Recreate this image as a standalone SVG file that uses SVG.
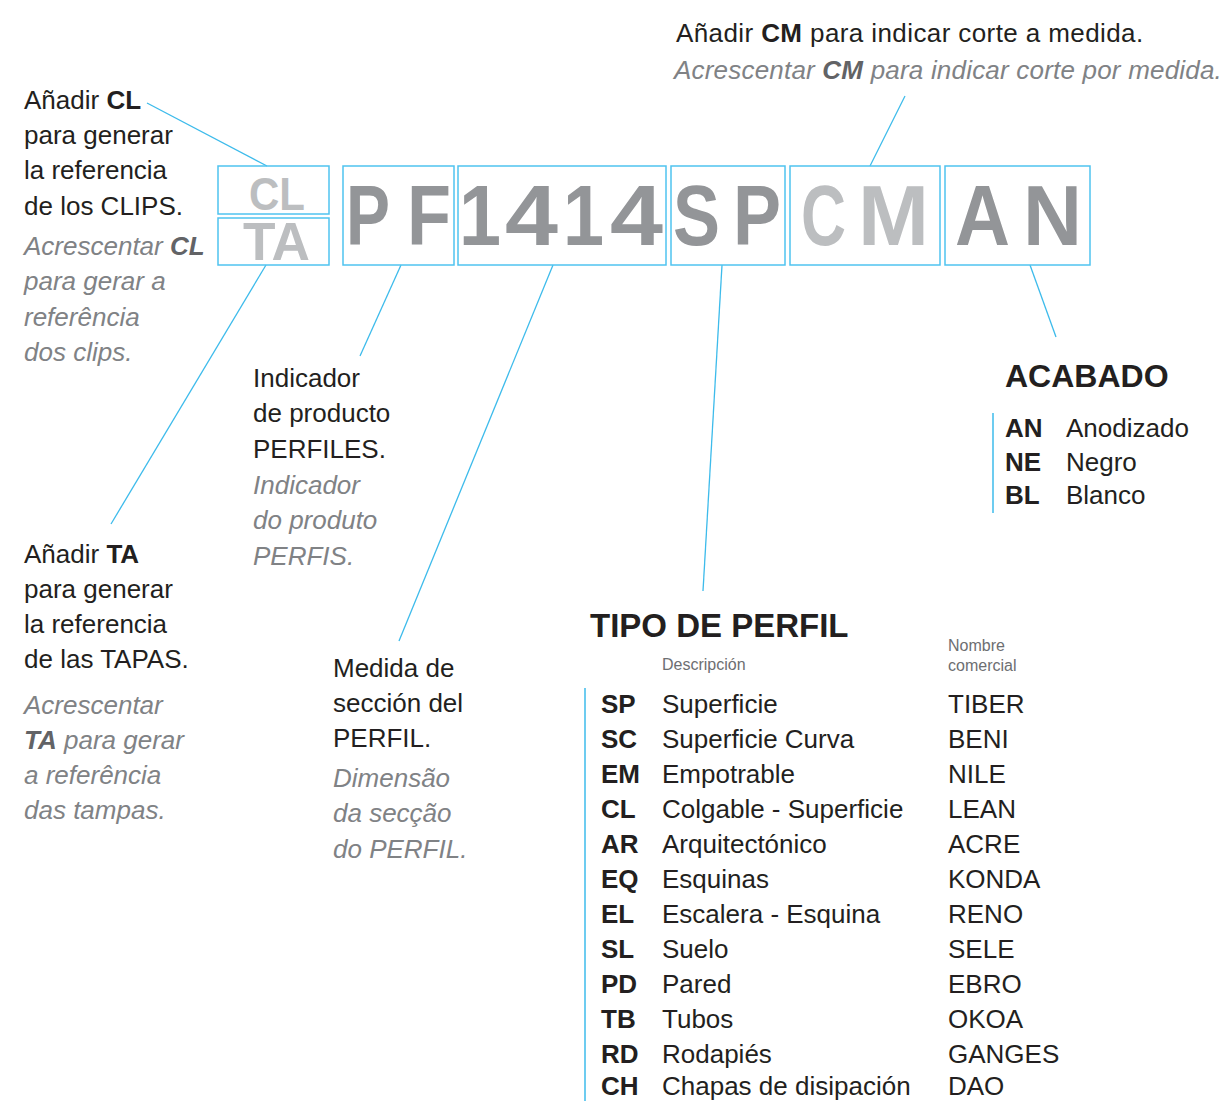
<svg xmlns="http://www.w3.org/2000/svg" width="1226" height="1101" viewBox="0 0 1226 1101">
<style>
text{font-family:"Liberation Sans",Arial,sans-serif;}
.t{font-size:26px;fill:#231f20;}
.i{font-size:26px;fill:#808285;font-style:italic;}
.b{font-weight:bold;}
.ib{font-weight:bold;fill:#626366;}
.big{font-size:86px;font-weight:bold;fill:#939598;}
.lt{fill:#bcbec0;}
.box{fill:none;stroke:#4fc3f0;stroke-width:1.5;}
.con line{stroke:#3dbbeb;stroke-width:1.3;}
.vbar{stroke:#3dbbeb;stroke-width:1.5;}
.h{font-size:33px;font-weight:bold;fill:#231f20;}
.s{font-size:16px;fill:#6d6e71;}
</style>
<rect width="1226" height="1101" fill="#ffffff"/>

<g id="connectors" class="con">
<line x1="147" y1="103" x2="267" y2="166"/>
<line x1="266" y1="265" x2="111" y2="524"/>
<line x1="401" y1="265" x2="360" y2="356"/>
<line x1="553" y1="265" x2="399" y2="641"/>
<line x1="722" y1="265" x2="703" y2="591"/>
<line x1="870" y1="166" x2="905" y2="96"/>
<line x1="1030" y1="265" x2="1056" y2="337"/>
</g>

<g id="box-CL">
<rect class="box" x="218" y="166" width="111" height="48"/>
<text x="249" y="210" font-size="47" class="b lt" textLength="56" lengthAdjust="spacingAndGlyphs">CL</text>
</g>
<g id="box-TA">
<rect class="box" x="218" y="218" width="111" height="47"/>
<text x="243" y="260" font-size="53" class="b lt" textLength="67" lengthAdjust="spacingAndGlyphs">TA</text>
</g>
<g id="box-PF">
<rect class="box" x="343" y="166" width="111" height="99"/>
<text class="big" x="346" y="245" textLength="44" lengthAdjust="spacingAndGlyphs">P</text>
<text class="big" x="407" y="245" textLength="44" lengthAdjust="spacingAndGlyphs">F</text>
</g>
<g id="box-1414">
<rect class="box" x="458" y="166" width="208" height="99"/>
<text class="big" x="459" y="245" textLength="42" lengthAdjust="spacingAndGlyphs">1</text>
<text class="big" x="505" y="245" textLength="53" lengthAdjust="spacingAndGlyphs">4</text>
<text class="big" x="563" y="245" textLength="41" lengthAdjust="spacingAndGlyphs">1</text>
<text class="big" x="610" y="245" textLength="53" lengthAdjust="spacingAndGlyphs">4</text>
</g>
<g id="box-SP">
<rect class="box" x="671" y="166" width="114" height="99"/>
<text class="big" x="673" y="245" textLength="47" lengthAdjust="spacingAndGlyphs">S</text>
<text class="big" x="733" y="245" textLength="48" lengthAdjust="spacingAndGlyphs">P</text>
</g>
<g id="box-CM">
<rect class="box" x="790" y="166" width="150" height="99"/>
<text class="big lt" x="801" y="245" textLength="45" lengthAdjust="spacingAndGlyphs">C</text>
<text class="big lt" x="858" y="245" textLength="71" lengthAdjust="spacingAndGlyphs">M</text>
</g>
<g id="box-AN">
<rect class="box" x="945" y="166" width="145" height="99"/>
<text class="big" x="955" y="245" textLength="55" lengthAdjust="spacingAndGlyphs">A</text>
<text class="big" x="1023" y="245" textLength="59" lengthAdjust="spacingAndGlyphs">N</text>
</g>

<g id="note-CM">
<text class="t" x="676" y="42" letter-spacing="0.4">Añadir <tspan class="b">CM</tspan> para indicar corte a medida.</text>
<text class="i" x="674" y="79" letter-spacing="0.2">Acrescentar <tspan class="ib">CM</tspan> para indicar corte por medida.</text>
</g>

<g id="note-CL">
<text class="t" x="24" y="109">Añadir <tspan class="b">CL</tspan></text>
<text class="t" x="24" y="144">para generar</text>
<text class="t" x="24" y="179">la referencia</text>
<text class="t" x="24" y="215">de los CLIPS.</text>
<text class="i" x="24" y="255">Acrescentar <tspan class="ib">CL</tspan></text>
<text class="i" x="24" y="290">para gerar a</text>
<text class="i" x="24" y="326">referência</text>
<text class="i" x="24" y="361">dos clips.</text>
</g>

<g id="note-PF">
<text class="t" x="253" y="387">Indicador</text>
<text class="t" x="253" y="422">de producto</text>
<text class="t" x="253" y="458">PERFILES.</text>
<text class="i" x="253" y="494">Indicador</text>
<text class="i" x="253" y="529">do produto</text>
<text class="i" x="253" y="565">PERFIS.</text>
</g>

<g id="note-TA">
<text class="t" x="24" y="563">Añadir <tspan class="b">TA</tspan></text>
<text class="t" x="24" y="598">para generar</text>
<text class="t" x="24" y="633">la referencia</text>
<text class="t" x="24" y="668">de las TAPAS.</text>
<text class="i" x="24" y="714">Acrescentar</text>
<text class="i" x="24" y="749"><tspan class="ib">TA</tspan> para gerar</text>
<text class="i" x="24" y="784">a referência</text>
<text class="i" x="24" y="819">das tampas.</text>
</g>

<g id="note-1414">
<text class="t" x="333" y="677">Medida de</text>
<text class="t" x="333" y="712">sección del</text>
<text class="t" x="333" y="747">PERFIL.</text>
<text class="i" x="333" y="787">Dimensão</text>
<text class="i" x="333" y="822">da secção</text>
<text class="i" x="333" y="858">do PERFIL.</text>
</g>

<g id="acabado">
<text x="1005" y="387" font-size="32" font-weight="bold" fill="#231f20">ACABADO</text>
<line class="vbar" x1="993" y1="413" x2="993" y2="513"/>
<text class="t b" x="1005" y="437">AN</text><text class="t" x="1066" y="437">Anodizado</text>
<text class="t b" x="1005" y="471">NE</text><text class="t" x="1066" y="471">Negro</text>
<text class="t b" x="1005" y="504">BL</text><text class="t" x="1066" y="504">Blanco</text>
</g>

<g id="tipo-perfil">
<text class="h" x="590" y="637">TIPO DE PERFIL</text>
<text class="s" x="662" y="670">Descripción</text>
<text class="s" x="948" y="651">Nombre</text>
<text class="s" x="948" y="671">comercial</text>
<line class="vbar" x1="585" y1="688" x2="585" y2="1101"/>
<text class="t b" x="601" y="713">SP</text><text class="t" x="662" y="713">Superficie</text><text class="t" x="948" y="713">TIBER</text>
<text class="t b" x="601" y="748">SC</text><text class="t" x="662" y="748">Superficie Curva</text><text class="t" x="948" y="748">BENI</text>
<text class="t b" x="601" y="783">EM</text><text class="t" x="662" y="783">Empotrable</text><text class="t" x="948" y="783">NILE</text>
<text class="t b" x="601" y="818">CL</text><text class="t" x="662" y="818">Colgable - Superficie</text><text class="t" x="948" y="818">LEAN</text>
<text class="t b" x="601" y="853">AR</text><text class="t" x="662" y="853">Arquitectónico</text><text class="t" x="948" y="853">ACRE</text>
<text class="t b" x="601" y="888">EQ</text><text class="t" x="662" y="888">Esquinas</text><text class="t" x="948" y="888">KONDA</text>
<text class="t b" x="601" y="923">EL</text><text class="t" x="662" y="923">Escalera - Esquina</text><text class="t" x="948" y="923">RENO</text>
<text class="t b" x="601" y="958">SL</text><text class="t" x="662" y="958">Suelo</text><text class="t" x="948" y="958">SELE</text>
<text class="t b" x="601" y="993">PD</text><text class="t" x="662" y="993">Pared</text><text class="t" x="948" y="993">EBRO</text>
<text class="t b" x="601" y="1028">TB</text><text class="t" x="662" y="1028">Tubos</text><text class="t" x="948" y="1028">OKOA</text>
<text class="t b" x="601" y="1063">RD</text><text class="t" x="662" y="1063">Rodapiés</text><text class="t" x="948" y="1063">GANGES</text>
<text class="t b" x="601" y="1095">CH</text><text class="t" x="662" y="1095">Chapas de disipación</text><text class="t" x="948" y="1095">DAO</text>
</g>
</svg>
